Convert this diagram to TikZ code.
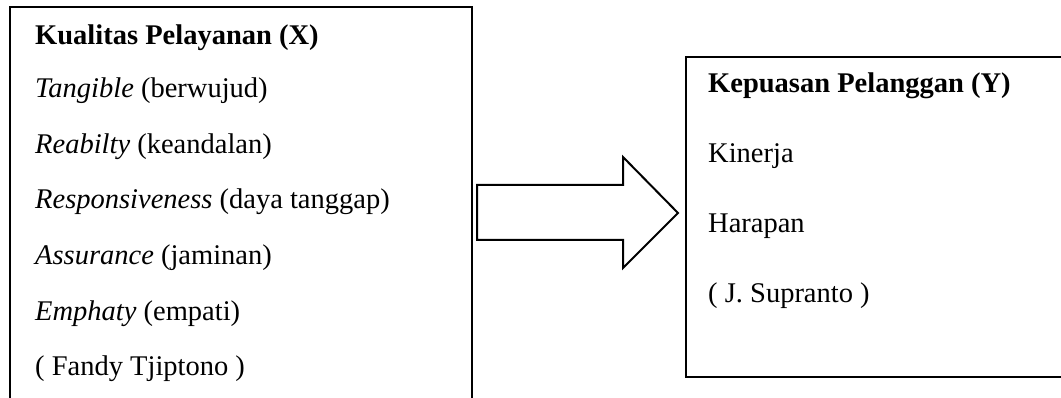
\documentclass[tikz,border=0pt]{standalone}
\usepackage{fontspec}
\setmainfont{Liberation Serif}
\begin{document}
\begin{tikzpicture}[x=1pt,y=-1pt,
  txt/.style={anchor=base west, inner sep=0pt, font=\fontsize{28.5}{34}\selectfont},
  frame/.style={draw=black, line width=2pt},
  blockarrow/.style={draw=black, line width=2pt, fill=white, line join=miter}]
\useasboundingbox (0,0) rectangle (1061,398);

% left frame (runs past the lower edge of the page)
\draw[frame] (10,400) -- (10,7) -- (472,7) -- (472,400);

% left list: service quality dimensions
\node[txt] (x0) at (35,45)    {\textbf{Kualitas Pelayanan (X)}};
\node[txt] (x1) at (35,98)    {\textit{Tangible} (berwujud)};
\node[txt] (x2) at (35,153.5) {\textit{Reabilty} (keandalan)};
\node[txt] (x3) at (35,209)   {\textit{Responsiveness} (daya tanggap)};
\node[txt] (x4) at (35,264.5) {\textit{Assurance} (jaminan)};
\node[txt] (x5) at (35,320)   {\textit{Emphaty} (empati)};
\node[txt] (x6) at (35,375)   {( Fandy Tjiptono )};

% right frame (runs past the right edge of the page)
\draw[frame] (1070,57) -- (686,57) -- (686,377) -- (1070,377);

% right list: customer satisfaction
\node[txt] (y0) at (708,93)  {\textbf{Kepuasan Pelanggan (Y)}};
\node[txt] (y1) at (708,163) {Kinerja};
\node[txt] (y2) at (708,233) {Harapan};
\node[txt] (y3) at (708,302) {( J. Supranto )};

% block arrow from X to Y
\draw[blockarrow] (477,185) -- (623,185) -- (623,157) -- (678,213)
  -- (623,268) -- (623,240) -- (477,240) -- cycle;
\end{tikzpicture}
\end{document}
